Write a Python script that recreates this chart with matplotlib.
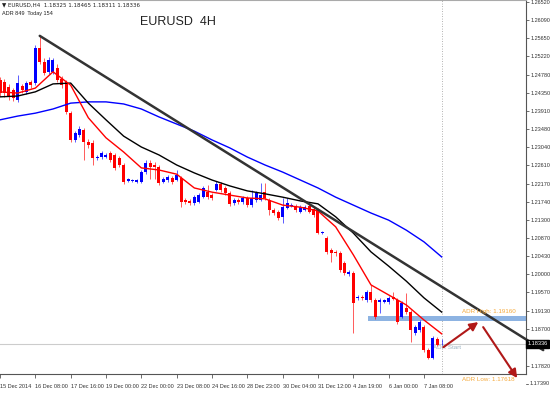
import matplotlib
matplotlib.use("Agg")
import matplotlib.pyplot as plt
from matplotlib.patches import Rectangle
import matplotlib.transforms as mtransforms

# ---------------- data ----------------
opens = [1.2465, 1.2461, 1.2449, 1.2441, 1.2418, 1.2451, 1.2437, 1.2461, 1.2458, 1.2542,
         1.2508, 1.2485, 1.2485, 1.2494, 1.2468, 1.2461, 1.2386, 1.2322, 1.2334, 1.2346,
         1.2317, 1.2315, 1.2279, 1.2281, 1.2281, 1.2291, 1.2286, 1.2279, 1.2262, 1.2224,
         1.2224, 1.2221, 1.2221, 1.2245, 1.2267, 1.2262, 1.2257, 1.2221, 1.2226, 1.2231,
         1.2226, 1.2231, 1.2178, 1.2176, 1.2171, 1.2173, 1.2185, 1.2197, 1.2190, 1.2202,
         1.2217, 1.2207, 1.2195, 1.2171, 1.2178, 1.2173, 1.2183, 1.2166, 1.2178, 1.2178,
         1.2197, 1.2178, 1.2154, 1.2150, 1.2138, 1.2159, 1.2164, 1.2164, 1.2150, 1.2154,
         1.2164, 1.2157, 1.2154, 1.2099, 1.2087, 1.2059, 1.2054, 1.2051, 1.2027, 1.2001,
         1.2004, 1.1944, 1.1946, 1.1939, 1.1958, 1.1939, 1.1934, 1.1934, 1.1934, 1.1946,
         1.1939, 1.1898, 1.1920, 1.1910, 1.1860, 1.1867, 1.1874, 1.1819, 1.1800, 1.1846,
         1.18325]
highs = [1.2473, 1.2468, 1.2456, 1.2446, 1.2477, 1.2456, 1.2463, 1.2465, 1.2549, 1.2571,
         1.2518, 1.2520, 1.2518, 1.2504, 1.2475, 1.2465, 1.2391, 1.2343, 1.2355, 1.2350,
         1.2324, 1.2322, 1.2286, 1.2296, 1.2291, 1.2296, 1.2291, 1.2284, 1.2267, 1.2231,
         1.2229, 1.2229, 1.2250, 1.2274, 1.2274, 1.2269, 1.2262, 1.2233, 1.2238, 1.2236,
         1.2250, 1.2236, 1.2183, 1.2181, 1.2190, 1.2195, 1.2212, 1.2214, 1.2195, 1.2224,
         1.2221, 1.2212, 1.2200, 1.2183, 1.2183, 1.2188, 1.2188, 1.2202, 1.2200, 1.2219,
         1.2219, 1.2183, 1.2159, 1.2154, 1.2183, 1.2183, 1.2171, 1.2169, 1.2166, 1.2166,
         1.2169, 1.2161, 1.2159, 1.2104, 1.2092, 1.2063, 1.2059, 1.2056, 1.2032, 1.2011,
         1.2008, 1.1951, 1.1951, 1.1963, 1.1975, 1.1944, 1.1944, 1.1941, 1.1948, 1.1958,
         1.1944, 1.1937, 1.1956, 1.1915, 1.1879, 1.1891, 1.1879, 1.1824, 1.1853, 1.1850,
         1.18465]
lows = [1.2427, 1.2425, 1.2418, 1.2415, 1.2413, 1.2434, 1.2432, 1.2446, 1.2453, 1.2504,
        1.2477, 1.2480, 1.2480, 1.2461, 1.2446, 1.2384, 1.2317, 1.2317, 1.2329, 1.2274,
        1.2303, 1.2262, 1.2274, 1.2276, 1.2279, 1.2269, 1.2250, 1.2257, 1.2217, 1.2221,
        1.2221, 1.2219, 1.2219, 1.2240, 1.2229, 1.2229, 1.2214, 1.2219, 1.2221, 1.2217,
        1.2224, 1.2161, 1.2169, 1.2166, 1.2166, 1.2171, 1.2183, 1.2181, 1.2178, 1.2200,
        1.2197, 1.2190, 1.2164, 1.2166, 1.2169, 1.2169, 1.2161, 1.2161, 1.2173, 1.2176,
        1.2178, 1.2142, 1.2142, 1.2130, 1.2123, 1.2157, 1.2161, 1.2150, 1.2147, 1.2152,
        1.2147, 1.2138, 1.2097, 1.2097, 1.2049, 1.2030, 1.2044, 1.2006, 1.1999, 1.1996,
        1.1860, 1.1939, 1.1939, 1.1934, 1.1934, 1.1893, 1.1908, 1.1932, 1.1929, 1.1939,
        1.1881, 1.1896, 1.1905, 1.1838, 1.1855, 1.1862, 1.1815, 1.1798, 1.1798, 1.1829,
        1.18311]
closes = [1.2434, 1.2434, 1.2425, 1.2422, 1.2458, 1.2441, 1.2458, 1.2453, 1.2542, 1.2508,
          1.2482, 1.2513, 1.2513, 1.2465, 1.2453, 1.2389, 1.2322, 1.2339, 1.2348, 1.2317,
          1.2310, 1.2279, 1.2281, 1.2291, 1.2286, 1.2274, 1.2255, 1.2262, 1.2221, 1.2229,
          1.2226, 1.2226, 1.2245, 1.2267, 1.2257, 1.2257, 1.2219, 1.2229, 1.2233, 1.2221,
          1.2238, 1.2173, 1.2173, 1.2171, 1.2185, 1.2190, 1.2207, 1.2185, 1.2183, 1.2217,
          1.2202, 1.2195, 1.2169, 1.2178, 1.2173, 1.2183, 1.2166, 1.2183, 1.2195, 1.2190,
          1.2183, 1.2154, 1.2147, 1.2135, 1.2161, 1.2171, 1.2166, 1.2154, 1.2161, 1.2161,
          1.2150, 1.2142, 1.2099, 1.2102, 1.2054, 1.2051, 1.2051, 1.2011, 1.2004, 1.2006,
          1.1932, 1.1946, 1.1944, 1.1958, 1.1939, 1.1898, 1.1939, 1.1939, 1.1944, 1.1941,
          1.1886, 1.1932, 1.1910, 1.1867, 1.1874, 1.1886, 1.1819, 1.1800, 1.1848, 1.1831,
          1.18336]

# moving averages read every 4 bars
ma_bars = list(range(0, 101, 4))
ma_fast = [1.2437, 1.2434, 1.2446, 1.2485, 1.2453, 1.2375, 1.2327, 1.2293, 1.2255, 1.2250,
           1.2240, 1.2207, 1.2197, 1.2190, 1.2183, 1.2181, 1.2166, 1.2161, 1.2152, 1.2114,
           1.2047, 1.1975, 1.1951, 1.1927, 1.1891, 1.1858]
ma_mid = [1.2425, 1.2427, 1.2437, 1.2456, 1.2458, 1.2410, 1.2370, 1.2331, 1.2305, 1.2286,
          1.2262, 1.2243, 1.2226, 1.2212, 1.2200, 1.2193, 1.2185, 1.2176, 1.2169, 1.2138,
          1.2099, 1.2054, 1.2020, 1.1984, 1.1944, 1.1910]
ma_slow = [1.2370, 1.2379, 1.2386, 1.2396, 1.2410, 1.2413, 1.2413, 1.2408, 1.2396, 1.2377,
           1.2360, 1.2343, 1.2322, 1.2303, 1.2281, 1.2262, 1.2245, 1.2226, 1.2207, 1.2185,
           1.2166, 1.2147, 1.2130, 1.2106, 1.2078, 1.2042]

x_tick_bars = [0, 8, 16, 24, 32, 40, 48, 56, 64, 72, 80, 88, 96]
x_tick_labels = ["15 Dec 2014", "16 Dec 08:00", "17 Dec 16:00", "19 Dec 00:00",
                 "22 Dec 00:00", "23 Dec 08:00", "24 Dec 16:00", "28 Dec 23:00",
                 "30 Dec 04:00", "31 Dec 12:00", "4 Jan 19:00", "6 Jan 00:00",
                 "7 Jan 08:00"]
y_ticks = [1.26520, 1.26090, 1.25650, 1.25220, 1.24780, 1.24350, 1.23910, 1.23480,
           1.23040, 1.22610, 1.22170, 1.21740, 1.21300, 1.20870, 1.20430, 1.20000,
           1.19570, 1.19130, 1.18700, 1.18260, 1.17820]
y_bottom_label = 1.17390

trend_bars = [9, 123]
trend_prices = [1.2571, 1.1819]

current_price = 1.18336
adr_high = 1.19160
adr_low = 1.17618
adr_band = (1.1889, 1.1901)
adr_start_bar = 83.4

# ---------------- figure ----------------
fig = plt.figure(figsize=(5.5, 3.94), dpi=100)
plt.rcParams['font.family'] = ['Liberation Sans', 'DejaVu Sans']
ax = fig.add_axes([0.0, 20 / 394, 526 / 550, 374 / 394])
ax.set_xlim(0.11, 119.1)
ax.set_ylim(1.17618, 1.26568)

up_col = '#0000ff'
dn_col = '#ff0000'
w = 0.68
for i in range(len(opens)):
    o, h, l, c = opens[i], highs[i], lows[i], closes[i]
    col = up_col if c >= o else dn_col
    ax.plot([i, i], [l, h], color=col, lw=0.6, alpha=0.75, zorder=3, solid_capstyle='butt')
    lo, hi = min(o, c), max(o, c)
    ax.add_patch(Rectangle((i - w / 2, lo), w, max(hi - lo, 0.00004), facecolor=col,
                           edgecolor='none', zorder=4))

ax.plot(ma_bars, ma_slow, color='#0000ff', lw=1.0, zorder=5)
ax.plot(ma_bars, ma_mid, color='#000000', lw=1.0, zorder=5)
ax.plot(ma_bars, ma_fast, color='#ff0000', lw=1.0, zorder=5)

# trend line
ax.plot(trend_bars, trend_prices, color='#333333', lw=1.8, zorder=6, clip_on=False,
        solid_capstyle='round')

# current price line and dotted separator
ax.axhline(current_price, color='#cccccc', lw=0.8, zorder=1)
ax.axvline(100, color='#999999', lw=0.6, ls=(0, (1, 2)), zorder=1)

# ADR band
ax.add_patch(Rectangle((adr_start_bar, adr_band[0]), 130 - adr_start_bar,
                       adr_band[1] - adr_band[0], facecolor='#8db3e2', edgecolor='none',
                       zorder=2, clip_on=True))

ax.text(104.6, 1.1905, "ADR High: 1.19160", color='#f5a83a', fontsize=4.5, zorder=7,
        va='bottom')
ax.text(104.6, 1.1748, "ADR Low: 1.17618", color='#f5a83a', fontsize=4.5, zorder=7,
        va='center', clip_on=False)
ax.text(98.0, 1.1826, "ADR Start", color='#9db4c4', fontsize=4.5, zorder=2, va='center')

# arrows
arrow_kw = dict(arrowstyle='-|>,head_length=0.5,head_width=0.25', color='#b01818', lw=1.5,
                shrinkA=0, shrinkB=0)
ax.annotate("", xy=(108.3, 1.1886), xytext=(100.4, 1.1826), arrowprops=arrow_kw,
            zorder=8)
ax.annotate("", xy=(117.1, 1.1752), xytext=(109.4, 1.1874), arrowprops=arrow_kw,
            zorder=8, annotation_clip=False)

# title and header
ax.text(0.338, 0.94, "EURUSD  4H", transform=ax.transAxes, fontsize=9, color='#222222',
        ha='center', va='center')
fig.text(2 / 550, 1 - 5 / 394, "\u25bc EURUSD,H4  1.18325 1.18465 1.18311 1.18336",
         fontsize=4, va='center', ha='left', color='#222222',
         family=['DejaVu Sans'])
fig.text(2 / 550, 1 - 14 / 394, "ADR 849  Today 154", fontsize=4, va='center',
         ha='left', color='#222222')

# axes styling
ax.spines['left'].set_visible(False)
for s in ['top', 'right', 'bottom']:
    ax.spines[s].set_color('#555555')
    ax.spines[s].set_linewidth(0.8)
ax.spines['top'].set_color('#aaaaaa')

ax.yaxis.tick_right()
ax.set_yticks(y_ticks)
ax.set_yticklabels([f"{v:.5f}" for v in y_ticks])
ax.tick_params(axis='y', direction='out', length=2, width=0.5, pad=1.5, labelsize=4,
               colors='#333333')
ax.set_xticks(x_tick_bars)
ax.set_xticklabels(x_tick_labels)
ax.tick_params(axis='x', direction='out', length=3, width=0.5, pad=4, labelsize=4,
               colors='#333333')
for lab in ax.get_xticklabels():
    lab.set_horizontalalignment('left')

trans = mtransforms.blended_transform_factory(ax.transAxes, ax.transData)
ax.text(1.0 + 3.5 / 526, y_bottom_label, f"{y_bottom_label:.5f}", transform=trans,
        fontsize=4, color='#333333', va='center', ha='left', clip_on=False)
ax.plot([1.0, 1.0 + 2 / 526], [y_bottom_label] * 2, transform=trans, color='#333333',
        lw=0.5, clip_on=False)
# current price box
ax.text(1.0 + 1.5 / 526, current_price, f"{current_price:.5f}", transform=trans,
        fontsize=4, color='white', va='center', ha='left', clip_on=False, zorder=9,
        bbox=dict(boxstyle='square,pad=0.25', facecolor='black', edgecolor='black'))

fig.savefig("out.png", dpi=100, facecolor='white')
